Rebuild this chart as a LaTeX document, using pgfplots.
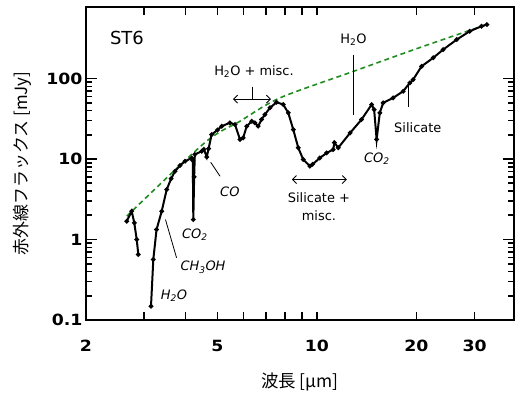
\documentclass[border=0pt]{standalone}
\usepackage{pgfplots}
\pgfplotsset{compat=1.18}
\usepackage{fontspec}
\usetikzlibrary{calc,arrows.meta}
\setmainfont{DejaVu Sans}
\newfontfamily\cjk{Noto Sans CJK JP}
\newfontfamily\tickfont{DejaVu Sans}[FakeStretch=1.12]
\definecolor{contgreen}{RGB}{34,139,34}

% spectrum, main part (wavelength [um], flux [mJy])
\pgfplotstableread{
x y
3.146 0.148
3.197 0.565
3.27 1.33
3.39 2.25
3.51 4.18
3.62 5.7
3.72 7.05
3.85 8.3
3.99 9.4
4.18 10.3
4.21 9.6
4.225 1.77
4.25 6.0
4.27 11.4
4.48 12.5
4.55 13.2
4.64 10.6
4.70 13.5
4.80 20.1
5.00 23.0
5.15 25.6
5.45 28.2
5.65 26.9
5.85 17.5
5.98 18.3
6.13 25.6
6.35 29.5
6.49 28.2
6.64 25.6
6.80 31.0
6.96 35.7
7.21 43.3
7.55 50.8
7.91 47.5
8.19 37.5
8.48 23.2
8.78 13.8
9.09 9.85
9.52 8.15
9.70 8.6
10.2 10.3
10.7 11.9
11.2 13.1
11.3 16.0
11.6 13.8
12.6 21.1
13.65 31.0
14.64 47.5
14.9 41.2
15.16 17.5
15.5 37.5
15.87 49.9
17.0 57.5
18.24 69.5
19.11 88.4
19.56 97.2
20.74 142
22.49 181
24.1 229
26.5 305
29.0 387
31.5 447
32.7 469
}\specmain

% short piece at the start
\pgfplotstableread{
x y
2.656 1.69
2.75 2.25
2.80 1.61
2.848 1.0
2.88 0.651
}\specshort

% continuum
\pgfplotstableread{
x y
2.656 1.95
4.58 16.0
5.85 29.5
7.73 57.5
12.91 123
20.5 243
32.7 469
}\cont

\begin{document}
\begin{tikzpicture}
\begin{axis}[
  xmode=log, ymode=log,
  scale only axis, width=428bp, height=313bp,
  xmin=2, xmax=39.5, ymin=0.1, ymax=775,
  axis line style={line width=1.6bp},
  xtick={2,3,4,5,6,7,8,9,10,20,30},
  xticklabels={2,,,5,,,,,10,20,30},
  minor xtick={},
  xtick style={draw=none},
  ytick={0.1,1,10,100},
  yticklabels={0.1,1,10,100},
  tick align=inside,
  major tick length=11bp, minor tick length=6bp,
  every tick/.style={black, line width=1.6bp},
  tick label style={font=\tickfont\bfseries\fontsize{15.5}{17}\selectfont},
  xticklabel style={yshift=-17bp},
  xlabel={\cjk 波長 [μm]},
  ylabel={\cjk 赤外線フラックス [mJy]},
  xlabel style={font=\fontsize{17.5}{19}\selectfont, at={(axis description cs:0.5,-0.198)}, anchor=center},
  ylabel style={font=\fontsize{17}{19}\selectfont, at={(axis description cs:-0.149,0.5)}, anchor=center},
]
\addplot[contgreen, line width=1.6bp, dash pattern=on 5bp off 3.5bp, smooth] table {\cont};
\addplot[black, line width=2bp, mark=*, mark size=1.2bp] table {\specshort};
\addplot[black, line width=2bp, mark=*, mark size=1.2bp] table {\specmain};

\begin{scope}[every node/.style={font=\fontsize{13}{15}\selectfont, inner sep=0pt}]
\node[font=\fontsize{18}{20}\selectfont] at (axis cs:2.66,323) {ST6};
\node at (axis cs:6.45,122) {H\textsubscript{2}O + misc.};
\draw[line width=0.9bp] (axis cs:6.36,79.6) -- (axis cs:6.36,55.6);
\draw[line width=0.9bp, {Straight Barb[length=4bp]}-{Straight Barb[length=4bp]}] (axis cs:5.57,55.6) -- (axis cs:7.26,55.6);
\node at (axis cs:12.91,305) {H\textsubscript{2}O};
\draw[line width=0.8bp] (axis cs:12.91,199) -- (axis cs:12.91,35.7);
\node at (axis cs:15.19,10.1) {\itshape CO\textsubscript{2}};
\node at (axis cs:20.2,24.6) {Silicate};
\draw[line width=0.8bp] (axis cs:18.9,84.2) -- (axis cs:18.9,44.9);
\draw[line width=0.9bp, {Straight Barb[length=4bp]}-{Straight Barb[length=4bp]}] (axis cs:8.40,5.56) -- (axis cs:12.32,5.56);
\node at (axis cs:10.14,3.33) {Silicate +};
\node at (axis cs:10.14,1.99) {misc.};
\node at (axis cs:5.45,3.94) {\itshape CO};
\draw[line width=0.8bp] (axis cs:4.77,9.12) -- (axis cs:5.09,6.11);
\node at (axis cs:4.27,1.15) {\itshape CO\textsubscript{2}};
\node at (axis cs:4.52,0.449) {\itshape CH\textsubscript{3}OH};
\draw[line width=0.8bp] (axis cs:3.48,1.77) -- (axis cs:3.76,0.593);
\node at (axis cs:3.69,0.201) {\itshape H\textsubscript{2}O};
\end{scope}
\end{axis}
% shorter x ticks, bottom and top
\begin{axis}[
  xmode=log,
  scale only axis, width=428bp, height=313bp,
  xmin=2, xmax=39.5, ymin=0, ymax=1,
  axis line style={draw=none},
  xtick={2,3,4,5,6,7,8,9,10,20,30},
  xticklabels={},
  minor xtick={},
  ytick=\empty,
  tick align=inside,
  major tick length=8bp,
  every tick/.style={black, line width=1.6bp},
]
\end{axis}
\pgfresetboundingbox
\path ($(current axis.south west)+(-86bp,-81bp)$) rectangle ($(current axis.north east)+(1bp,7bp)$);
\end{tikzpicture}
\end{document}
